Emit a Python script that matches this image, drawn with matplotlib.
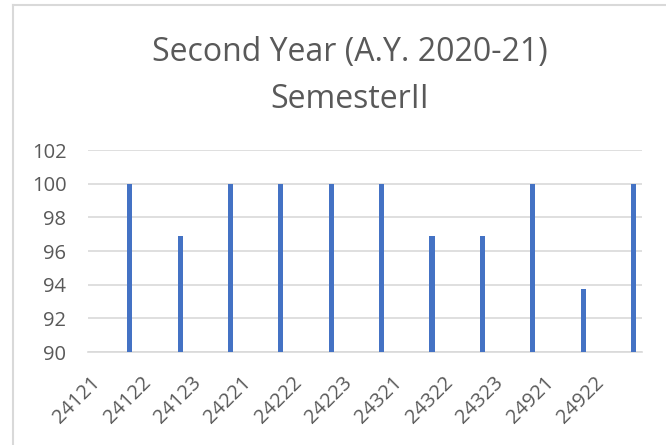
import numpy as np
import matplotlib
matplotlib.use("Agg")
import matplotlib.pyplot as plt
from matplotlib.lines import Line2D

# Subject codes and their values
subjects = ['24121', '24122', '24123', '24221', '24222', '24223',
            '24321', '24322', '24323', '24921', '24922']
scores = [100, 96.875, 100, 100, 100, 100, 96.875, 96.875, 100, 93.75, 100]
y_ticks = [90, 92, 94, 96, 98, 100, 102]

plt.rcParams['font.family'] = ['Open Sans', 'DejaVu Sans']
text_col = '#595959'
grid_col = '#D9D9D9'
bar_col = '#4472C4'

fig = plt.figure(figsize=(6.66, 4.45), dpi=100)
ax = fig.add_axes([88 / 666, 1 - 352 / 445, 554 / 666, 202 / 445])

x = np.arange(len(subjects))
# bars sit toward the right of each category slot, like the Excel original
ax.bar(x + 0.83, scores, width=0.1, bottom=0, color=bar_col, zorder=3)

ax.set_xlim(0, len(subjects))
ax.set_ylim(90, 102)
ax.set_yticks(y_ticks)
ax.set_yticklabels([str(v) for v in y_ticks], fontsize=14.5, color=text_col)
ax.yaxis.grid(True, color=grid_col, linewidth=1.2, zorder=0)

# rotated labels end a bit left of the bars, as in the original
ax.set_xticks(x + 0.19)
ax.set_xticklabels(subjects, rotation=45, ha='right', va='center',
                   rotation_mode='anchor', fontsize=14.5, color=text_col)
ax.tick_params(axis='both', length=0)
ax.tick_params(axis='y', pad=15.5)
ax.tick_params(axis='x', pad=20)

for side in ['top', 'right', 'left']:
    ax.spines[side].set_visible(False)
ax.spines['bottom'].set_color(grid_col)
ax.spines['bottom'].set_linewidth(1.2)

fig.text(350 / 666, 1 - 53 / 445, 'Second Year (A.Y. 2020-21)', ha='center',
         va='center', fontsize=23, color=text_col)
fig.text(350 / 666, 1 - 100 / 445, 'SemesterII', ha='center',
         va='center', fontsize=23, color=text_col)

# light chart frame, cut off at the right and bottom
fig.add_artist(Line2D([12.5 / 666, 12.5 / 666], [0, 1 - 5 / 445],
                      transform=fig.transFigure, color=grid_col, linewidth=1.5))
fig.add_artist(Line2D([12.5 / 666, 1], [1 - 5 / 445, 1 - 5 / 445],
                      transform=fig.transFigure, color=grid_col, linewidth=1.5))

fig.savefig('out.png', dpi=100)
